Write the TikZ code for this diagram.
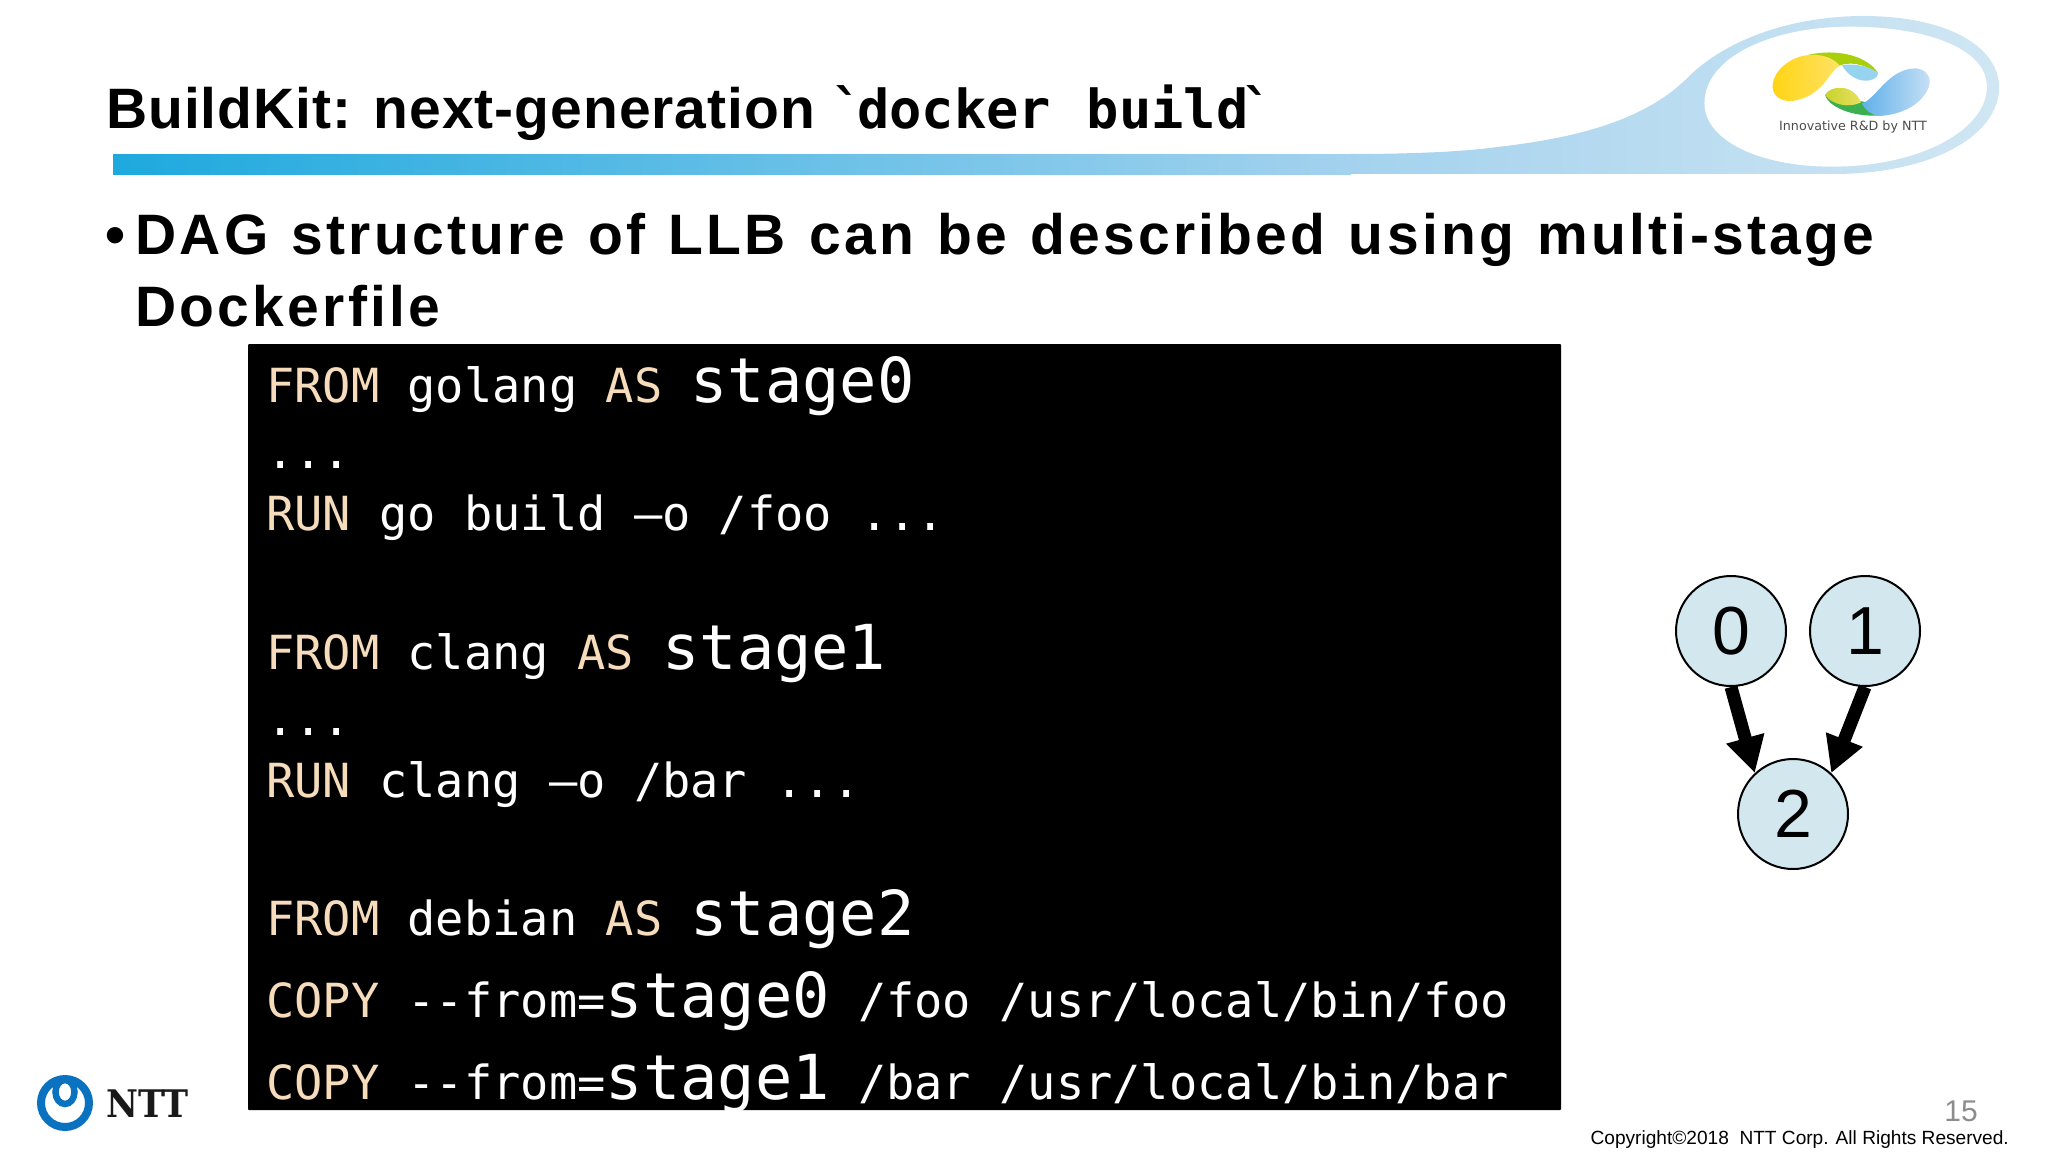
\documentclass[tikz,border=0pt]{standalone}
\usepackage{fontspec}
\setmainfont{Liberation Sans}
\newfontfamily\codefont{DejaVu Sans Mono}
\newfontfamily\titlefont[LetterSpace=1.7]{Liberation Sans}
\newfontfamily\spacedfont[LetterSpace=5.8,WordSpace=1.21]{Liberation Sans}
\newfontfamily\slabfont{DejaVu Serif}
\newfontfamily\tagfont{DejaVu Sans}
\usetikzlibrary{arrows.meta}
\definecolor{kwpeach}{HTML}{F7DCBC}
\definecolor{nodeblue}{HTML}{D3E7EF}
\definecolor{nttblue}{HTML}{0A72BF}
\definecolor{barleft}{HTML}{1EA9DE}
\definecolor{barmid}{HTML}{70BAE5}
\definecolor{barright}{HTML}{A4D2EE}
\definecolor{swoopright}{HTML}{D0E6F3}
\definecolor{logogreen}{HTML}{A8CF0A}
\definecolor{logolow}{HTML}{3CB050}
\definecolor{logosky}{HTML}{96D3EE}
\definecolor{yellowa}{HTML}{FFD414}
\definecolor{yellowb}{HTML}{FFE264}
\definecolor{olivea}{HTML}{C8D32E}
\definecolor{oliveb}{HTML}{E8E060}
\definecolor{bluea}{HTML}{60B0EA}
\definecolor{blueb}{HTML}{C8E1F5}
\newcommand{\kw}[1]{\textcolor{kwpeach}{#1}}
\newcommand{\stg}[1]{{\fontsize{62}{62}\selectfont #1}}
\tikzset{
  codeline/.style={anchor=base west, inner sep=0pt, text=white, font=\codefont\fontsize{47}{47}\selectfont},
  headline/.style={anchor=base west, inner sep=0pt, font=\titlefont\bfseries\fontsize{57}{57}\selectfont},
  bulletline/.style={anchor=base west, inner sep=0pt, font=\spacedfont\bfseries\fontsize{57}{57}\selectfont},
  stagenode/.style={circle, draw=black, line width=2pt, fill=nodeblue, minimum size=110pt, inner sep=0pt, font=\fontsize{68}{68}\selectfont},
  stageedge/.style={->, line width=13pt},
}
\begin{document}
\begin{tikzpicture}[x=1pt, y=-1pt, >={Triangle[width=37pt,length=36pt]}]
  \useasboundingbox (0,0) rectangle (2048,1152);
  % banner
  \shade[left color=barleft, middle color=barmid, right color=barright] (113,154) rectangle (1351,174);
  \begin{scope}[shift={(1500,0)}, x=0.3495pt, y=-0.3333pt]
    \shade[left color=barright, right color=swoopright]
      (-429,462) .. controls (-250,462) and (-100,455) .. (0,440)
      .. controls (250,410) and (420,350) .. (530,240) .. controls (650,110) and (850,48) .. (1040,48)
      .. controls (1280,48) and (1428,140) .. (1428,262) .. controls (1428,400) and (1250,520) .. (960,522)
      -- (-429,522) -- cycle;
    \fill[white] (585,310) .. controls (585,170) and (780,80) .. (1000,80) .. controls (1230,80) and (1393,150) .. (1393,260)
      .. controls (1393,390) and (1200,500) .. (950,500) .. controls (740,500) and (585,420) .. (585,310) -- cycle;
    % logo
    \fill[logogreen] (880,165) .. controls (960,145) and (1050,165) .. (1082,220) .. controls (1040,190) and (1000,185) .. (970,197) -- cycle;
    \shade[left color=yellowa, right color=yellowb]
      (780,255) .. controls (785,205) and (840,165) .. (890,165) .. controls (925,163) and (955,175) .. (972,197)
      .. controls (940,215) and (925,290) .. (835,303) .. controls (800,305) and (778,285) .. (780,255) -- cycle;
    \fill[logosky] (978,195) .. controls (1020,190) and (1065,200) .. (1082,222) .. controls (1075,250) and (1010,255) .. (978,195) -- cycle;
    \fill[logolow] (930,285) .. controls (945,330) and (1030,355) .. (1105,345) -- (1040,305) -- cycle;
    \shade[left color=olivea, right color=oliveb]
      (930,285) .. controls (945,255) and (1010,250) .. (1033,307) .. controls (1000,325) and (950,315) .. (930,285) -- cycle;
    \shade[left color=bluea, right color=blueb]
      (1035,310) .. controls (1075,300) and (1110,205) .. (1190,205) .. controls (1230,210) and (1235,245) .. (1225,265)
      .. controls (1200,325) and (1130,347) .. (1085,347) .. controls (1060,345) and (1045,330) .. (1035,310) -- cycle;
  \end{scope}
  \node[anchor=center, inner sep=0pt, text=black!70, font=\tagfont\fontsize{12.7}{13}\selectfont] (tagline) at (1853,127) {Innovative R\&D by NTT};
  % heading
  \node[headline] (title) at (106,128) {BuildKit: next-generation {\codefont\fontsize{53.7}{54}\selectfont `\hspace{-7pt}docker\hspace{3.5pt} build\hspace{-7pt}`}};
  \node[headline] (dot) at (105,254) {•};
  \node[bulletline] (first) at (135,254) {DAG structure of LLB can be described using multi-stage};
  \node[bulletline] (second) at (135,326) {Dockerfile};
  % code box
  \fill[black, rounded corners=1pt] (248,344) rectangle (1561,1110);
  \node[codeline] (c1) at (266,402) {\kw{FROM} golang \kw{AS} \stg{stage0}};
  \node[codeline] (c2) at (266,468) {...};
  \node[codeline] (c3) at (266,530) {\kw{RUN} go build –o /foo ...};
  \node[codeline] (c4) at (266,669) {\kw{FROM} clang \kw{AS} \stg{stage1}};
  \node[codeline] (c5) at (266,735) {...};
  \node[codeline] (c6) at (266,797) {\kw{RUN} clang –o /bar ...};
  \node[codeline] (c7) at (266,935) {\kw{FROM} debian \kw{AS} \stg{stage2}};
  \node[codeline] (c8) at (266,1017) {\kw{COPY} --from=\stg{stage0} /foo /usr/local/bin/foo};
  \node[codeline] (c9) at (266,1099) {\kw{COPY} --from=\stg{stage1} /bar /usr/local/bin/bar};
  % graph
  \node[stagenode] (n0) at (1731,631) {0};
  \node[stagenode] (n1) at (1865,631) {1};
  \node[stagenode] (n2) at (1793,814) {2};
  \draw[stageedge] (n0.south) -- (n2.133);
  \draw[stageedge] (n1.south) -- (n2.47);
  % footer
  \draw[nttblue, line width=8pt] (65,1103) circle [radius=24];
  \draw[nttblue, line width=6.5pt] (65,1092) ellipse [x radius=9.5, y radius=12];
  \node[anchor=base west, inner sep=0pt, xscale=0.92, transform shape, text=black!90, font=\slabfont\bfseries\fontsize{38}{38}\selectfont] (ntt) at (106,1117) {NTT};
  \node[anchor=base east, inner sep=0pt, text=black!45, font=\fontsize{30}{30}\selectfont] (page) at (1978,1121) {15};
  \node[anchor=base east, inner sep=0pt, font=\fontsize{19.1}{20}\selectfont] (copy) at (2009,1144) {Copyright©2018~~NTT Corp. All Rights Reserved.};
\end{tikzpicture}
\end{document}
